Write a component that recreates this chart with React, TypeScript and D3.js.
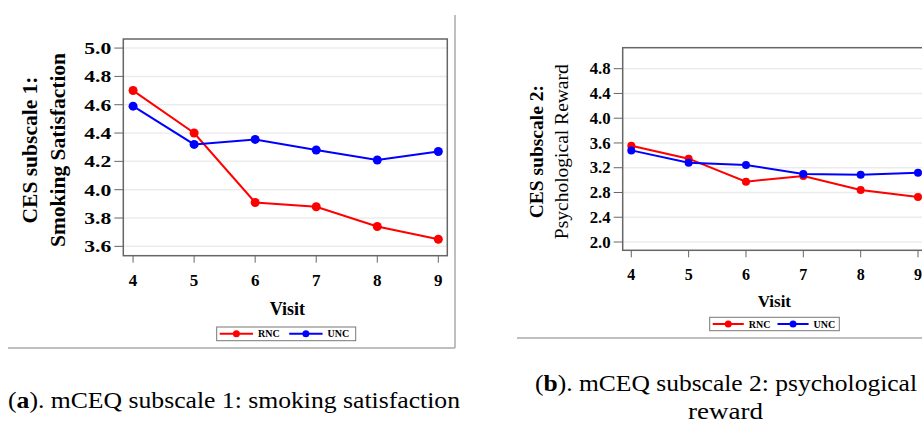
import React from 'react';
import * as d3 from 'd3';

const visits = [4, 5, 6, 7, 8, 9];
const seriesNames = ['RNC', 'UNC'];
const seriesColors = ['#ff0000', '#0000ff'];

// panel (a): smoking satisfaction
const satisfactionRNC = [4.70, 4.40, 3.91, 3.88, 3.74, 3.65];
const satisfactionUNC = [4.59, 4.32, 4.355, 4.28, 4.21, 4.27];
const satisfactionTicks = [3.6, 3.8, 4.0, 4.2, 4.4, 4.6, 4.8, 5.0];

// panel (b): psychological reward
const rewardRNC = [3.556, 3.346, 2.975, 3.067, 2.84, 2.727];
const rewardUNC = [3.48, 3.28, 3.244, 3.099, 3.088, 3.12];
const rewardTicks = [2.0, 2.4, 2.8, 3.2, 3.6, 4.0, 4.4, 4.8];

const serif = '"Liberation Serif", "Times New Roman", serif';

type PanelProps = {
  frame: { left: number; right: number; top: number; bottom: number };
  xDomain: [number, number];
  yDomain: [number, number];
  ticks: number[];
  series: number[][];
  fontSize: number;
  tickWidth: number;
  titleSize: number;
  titleLines: string[];
  titleBold: boolean[];
  titleX: number[];
  titleY: number;
  visitY: number;
  legend: { x: number; y: number; w: number; h: number };
  r: number;
};

const Panel = (p: PanelProps) => {
  const { frame } = p;
  const x = d3.scaleLinear().domain(p.xDomain).range([frame.left, frame.right]);
  const y = d3.scaleLinear().domain(p.yDomain).range([frame.bottom, frame.top]);
  const line = d3.line<number>()
    .x((_, i) => x(visits[i]))
    .y(d => y(d));

  const lg = p.legend;
  const seg = lg.w * 0.24;

  return (
    <g>
      {p.ticks.map(t => (
        <g key={t}>
          <line x1={frame.left} x2={frame.right} y1={y(t)} y2={y(t)} stroke="#ececec" strokeWidth={1.5} />
          <line x1={frame.left - 9} x2={frame.left} y1={y(t)} y2={y(t)} stroke="#666" strokeWidth={1} />
          <text x={frame.left - 12} y={y(t)} dy="0.35em" textAnchor="end"
            fontSize={p.fontSize} fontWeight="bold" fontFamily={serif}
            textLength={p.tickWidth} lengthAdjust="spacingAndGlyphs">{t.toFixed(1)}</text>
        </g>
      ))}
      {visits.map(v => (
        <g key={v}>
          <line x1={x(v)} x2={x(v)} y1={frame.bottom} y2={frame.bottom + 7} stroke="#666" strokeWidth={1} />
          <text x={x(v)} y={frame.bottom + 24} dy="0.35em" textAnchor="middle"
            fontSize={p.fontSize} fontWeight="bold" fontFamily={serif}>{v}</text>
        </g>
      ))}
      <rect x={frame.left} y={frame.top} width={frame.right - frame.left} height={frame.bottom - frame.top}
        fill="none" stroke="#666" strokeWidth={1.5} />
      {p.series.map((s, si) => (
        <g key={si}>
          <path d={line(s) || ''} fill="none" stroke={seriesColors[si]} strokeWidth={2} />
          {s.map((d, i) => (
            <circle key={i} cx={x(visits[i])} cy={y(d)} r={p.r} fill={seriesColors[si]} />
          ))}
        </g>
      ))}
      <text x={(frame.left + Math.min(frame.right, 922)) / 2 + 2} y={p.visitY} dy="0.35em" textAnchor="middle"
        fontSize={p.fontSize + 1} fontWeight="bold" fontFamily={serif}>Visit</text>
      {p.titleLines.map((t, i) => (
        <text key={i} transform={`translate(${p.titleX[i]},${p.titleY}) rotate(-90)`} dy="0.35em"
          textAnchor="middle" fontSize={p.titleSize} fontWeight={p.titleBold[i] ? 'bold' : 'normal'}
          fontFamily={serif}>{t}</text>
      ))}
      <rect x={lg.x} y={lg.y} width={lg.w} height={lg.h} fill="#fff" stroke="#777" strokeWidth={1} />
      {seriesNames.map((n, i) => {
        const sx = lg.x + 3 + i * lg.w * 0.5;
        const cy = lg.y + lg.h / 2;
        return (
          <g key={n}>
            <line x1={sx} x2={sx + seg} y1={cy} y2={cy} stroke={seriesColors[i]} strokeWidth={2} />
            <circle cx={sx + seg / 2} cy={cy} r={3.5} fill={seriesColors[i]} />
            <text x={sx + seg + 5} y={cy} dy="0.35em" fontSize={10} fontWeight="bold" fontFamily={serif}>{n}</text>
          </g>
        );
      })}
    </g>
  );
};

export default function App() {
  return (
    <svg width={922} height={426} style={{ position: 'absolute', left: 0, top: 0, background: '#fff' }}>
      {/* panel (a) border */}
      <line x1={455} x2={455} y1={15} y2={348} stroke="#aaa" strokeWidth={1.5} />
      <line x1={8} x2={455} y1={348} y2={348} stroke="#aaa" strokeWidth={1.5} />
      <Panel
        frame={{ left: 123.3, right: 447.3, top: 39, bottom: 255.7 }}
        xDomain={[3.84, 9.147]}
        yDomain={[3.534, 5.064]}
        ticks={satisfactionTicks}
        series={[satisfactionRNC, satisfactionUNC]}
        fontSize={17}
        tickWidth={27}
        titleSize={21.5}
        titleLines={['CES subscale 1:', 'Smoking Satisfaction']}
        titleBold={[true, true]}
        titleX={[29, 57]}
        titleY={150}
        visitY={309}
        legend={{ x: 216.7, y: 327, w: 139, h: 13.7 }}
        r={4.5}
      />
      {/* panel (b) border */}
      <line x1={517} x2={922} y1={338} y2={338} stroke="#aaa" strokeWidth={1.5} />
      <Panel
        frame={{ left: 622.7, right: 926.6, top: 47.7, bottom: 250.3 }}
        xDomain={[3.85, 9.15]}
        yDomain={[1.866, 5.139]}
        ticks={rewardTicks}
        series={[rewardRNC, rewardUNC]}
        fontSize={16}
        tickWidth={21}
        titleSize={19.5}
        titleLines={['CES subscale 2:', 'Psychological Reward']}
        titleBold={[true, false]}
        titleX={[536, 561]}
        titleY={151.7}
        visitY={300.7}
        legend={{ x: 709.7, y: 317.3, w: 129.6, h: 13.4 }}
        r={4}
      />
      <text x={234} y={408} textAnchor="middle" fontSize={23} fontFamily={serif}
        textLength={452} lengthAdjust="spacingAndGlyphs">
        (<tspan fontWeight="bold">a</tspan>). mCEQ subscale 1: smoking satisfaction
      </text>
      <text x={726} y={391} textAnchor="middle" fontSize={23} fontFamily={serif}
        textLength={382} lengthAdjust="spacingAndGlyphs">
        (<tspan fontWeight="bold">b</tspan>). mCEQ subscale 2: psychological
      </text>
      <text x={725.5} y={419} textAnchor="middle" fontSize={23} fontFamily={serif}
        textLength={75} lengthAdjust="spacingAndGlyphs">reward</text>
    </svg>
  );
}
